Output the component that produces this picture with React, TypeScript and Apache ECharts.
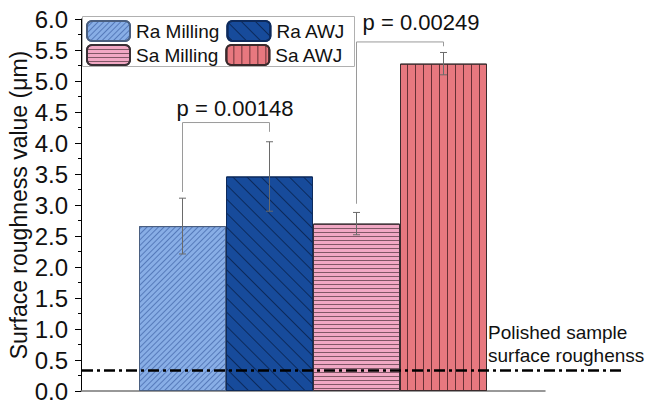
import React, { useEffect, useRef } from "react";
import * as echarts from "echarts";

const seriesNames = ["Ra Milling", "Ra AWJ", "Sa Milling", "Sa AWJ"];
const meanValues = [2.66, 3.46, 2.7, 5.28];
const errValues = [0.45, 0.56, 0.18, 0.18];
const yTicks = { min: 0, max: 6, interval: 0.5 };
const polishedValue = 0.33;
const polishedLabel = "Polished sample\nsurface roughenss";
const bracketPairs = [
  [0, 1],
  [2, 3],
];
const bracketTop = [4.33, 5.63];
const bracketLeftEnd = [3.21, 3.02];
const bracketRightEnd = [4.18, 5.56];
const pTextValue = [4.56, 5.95];
const pTexts = ["p = 0.00148", "p = 0.00249"];

const FONT = "'Liberation Sans', Arial, sans-serif";
const fills = ["#88AEE6", "#174B9B", "#F1A8C4", "#E7787F"];
const borders = ["#4a5f80", "#0d2a5c", "#3a3036", "#3a2a2c"];
const decals: any[] = [
  { symbol: "rect", symbolSize: 1, dashArrayX: [1, 0], dashArrayY: [1, 2.6], rotation: -Math.PI / 4, color: "rgba(45,80,150,0.55)" },
  { symbol: "rect", symbolSize: 1, dashArrayX: [1, 0], dashArrayY: [1, 9], rotation: Math.PI / 4, color: "rgba(8,30,70,0.75)" },
  { symbol: "rect", symbolSize: 1, dashArrayX: [1, 0], dashArrayY: [1, 2.4], rotation: 0, color: "rgba(90,60,70,0.75)" },
  { symbol: "rect", symbolSize: 1, dashArrayX: [1, 0], dashArrayY: [1, 6.3], rotation: Math.PI / 2, color: "rgba(70,30,35,0.8)" },
];

const CAT_GAP = 0.25;

function barCenter(api: any, i: number, v: number) {
  const c = api.coord([0, v]);
  const w = api.size([1, 0])[0];
  const bw = (w * (1 - CAT_GAP)) / 4;
  return [c[0] + (i - 1.5) * bw, c[1]];
}

export default function App() {
  const ref = useRef<HTMLDivElement>(null);
  useEffect(() => {
    const chart = echarts.init(ref.current!, null, { renderer: "svg" });
    const barSeries = seriesNames.map((name, i) => ({
      name,
      type: "bar",
      data: [meanValues[i]],
      barGap: "0%",
      barCategoryGap: CAT_GAP * 100 + "%",
      itemStyle: { color: fills[i], borderColor: borders[i], borderWidth: 1, decal: decals[i] },
      z: 2,
    }));
    const errData = meanValues.map((m, i) => [0, m, errValues[i], i]);
    const errSeries = {
      type: "custom",
      data: errData,
      encode: { x: 0, y: 1 },
      z: 5,
      silent: true,
      renderItem: (params: any, api: any) => {
        const m = api.value(1);
        const e = api.value(2);
        const i = api.value(3);
        const top = barCenter(api, i, m + e);
        const bot = barCenter(api, i, m - e);
        const cap = 3.5;
        const st = { stroke: "#6a6a6a", lineWidth: 1 };
        return {
          type: "group",
          children: [
            { type: "line", shape: { x1: top[0], y1: top[1], x2: bot[0], y2: bot[1] }, style: st },
            { type: "line", shape: { x1: top[0] - cap, y1: top[1], x2: top[0] + cap, y2: top[1] }, style: st },
            { type: "line", shape: { x1: bot[0] - cap, y1: bot[1], x2: bot[0] + cap, y2: bot[1] }, style: st },
          ],
        };
      },
    };
    const textOffsets = [9, 21];
    const bracketSeries = {
      type: "custom",
      data: bracketPairs.map((p, k) => [0, bracketTop[k], k]),
      encode: { x: 0, y: 1 },
      z: 6,
      silent: true,
      renderItem: (params: any, api: any) => {
        const k = api.value(2);
        const [a, b] = bracketPairs[k];
        const tl = barCenter(api, a, bracketTop[k]);
        const tr = barCenter(api, b, bracketTop[k]);
        const le = barCenter(api, a, bracketLeftEnd[k]);
        const re = barCenter(api, b, bracketRightEnd[k]);
        const tp = barCenter(api, 0, pTextValue[k]);
        const st = { stroke: "#9a9a9a", lineWidth: 1, fill: null };
        return {
          type: "group",
          children: [
            { type: "polyline", shape: { points: [le, tl, tr, re] }, style: st },
            {
              type: "text",
              x: (tl[0] + tr[0]) / 2 + textOffsets[k],
              y: tp[1],
              style: { text: pTexts[k], font: `22px ${FONT}`, fill: "#111", align: "center", verticalAlign: "middle" },
            },
          ],
        };
      },
    };
    const refSeries = {
      type: "custom",
      data: [[0, polishedValue]],
      encode: { x: 0, y: 1 },
      z: 7,
      silent: true,
      renderItem: (params: any, api: any) => {
        const cs = params.coordSys;
        const y = api.coord([0, api.value(1)])[1];
        return {
          type: "group",
          children: [
            {
              type: "line",
              shape: { x1: cs.x + 1, y1: y, x2: cs.x + cs.width + 78, y2: y },
              style: { stroke: "#000", lineWidth: 2.5, lineDash: [11, 4, 3, 4] },
            },
            {
              type: "text",
              x: cs.x + cs.width - 57,
              y: y - 4,
              style: { text: polishedLabel, font: `19px ${FONT}`, lineHeight: 23, fill: "#111", align: "left", verticalAlign: "bottom" },
            },
          ],
        };
      },
    };
    const legendCommon = {
      left: 86,
      itemWidth: 43,
      itemHeight: 20,
      itemGap: 7,
      padding: 0,
      textStyle: { fontSize: 19, fontFamily: FONT, color: "#111", padding: [0, 0, 0, 1] },
      selectedMode: false,
      z: 10,
    };
    chart.setOption({
      animation: false,
      aria: { enabled: false },
      textStyle: { fontFamily: FONT },
      grid: { left: 81, top: 19, right: 104, bottom: 12, containLabel: false, outerBoundsMode: "none" },
      legend: [
        { ...legendCommon, top: 20, data: ["Ra Milling", "Ra AWJ"] },
        { ...legendCommon, top: 44, data: ["Sa Milling", "Sa AWJ"] },
      ],
      graphic: [
        {
          type: "rect",
          z: 1,
          shape: { x: 82.5, y: 16.5, width: 272, height: 50 },
          style: { fill: "#fff", stroke: "#b0b0b0", lineWidth: 1 },
        },
      ],
      xAxis: {
        type: "category",
        data: [""],
        axisLine: { lineStyle: { color: "#777", width: 1.5 } },
        axisTick: { show: false },
        axisLabel: { show: false },
      },
      yAxis: {
        type: "value",
        min: yTicks.min,
        max: yTicks.max,
        interval: yTicks.interval,
        name: "Surface roughness value (μm)",
        nameLocation: "middle",
        nameGap: 51,
        nameMoveOverlap: false,
        nameTextStyle: { fontSize: 23, fontFamily: FONT, color: "#111" },
        axisLine: { show: true, lineStyle: { color: "#000", width: 1 } },
        axisTick: { show: true, length: 6, lineStyle: { color: "#000" } },
        minorTick: { show: true, splitNumber: 2, length: 3, lineStyle: { color: "#000" } },
        splitLine: { show: false },
        axisLabel: {
          margin: 13,
          fontSize: 24,
          fontFamily: FONT,
          color: "#111",
          formatter: (v: number) => v.toFixed(1),
        },
      },
      series: [...barSeries, errSeries, bracketSeries, refSeries],
    });
    return () => chart.dispose();
  }, []);
  return <div ref={ref} style={{ width: 649, height: 403, position: "absolute", left: 0, top: 0 }} />;
}
